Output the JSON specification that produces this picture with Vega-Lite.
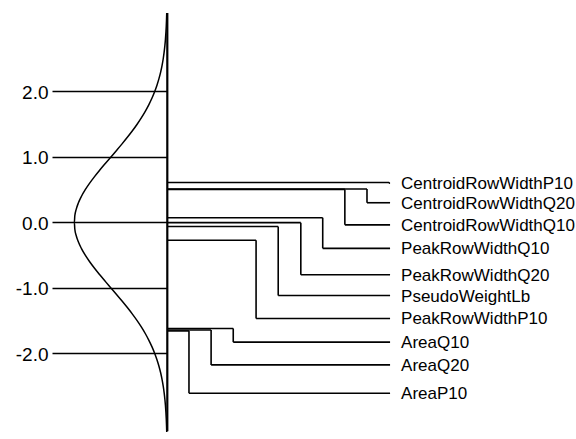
{
  "$schema": "https://vega.github.io/schema/vega-lite/v6.json",
  "width": 576,
  "height": 439,
  "autosize": {"type": "none"},
  "padding": 0,
  "background": "white",
  "config": {"view": {"stroke": null}},
  "layer": [
    {
      "data": {"values": [{"top": 3.2, "bottom": -3.19, "axisX": 0}]},
      "mark": {"type": "rule", "color": "#000", "strokeWidth": 2.2},
      "encoding": {
        "x": {"field": "axisX", "type": "quantitative", "axis": null, "scale": {"domain": [-0.718, 1.754], "nice": false}},
        "y": {
          "field": "top", "type": "quantitative",
          "scale": {"domain": [-3.231, 3.321], "nice": false, "zero": false},
          "axis": {
            "orient": "left", "offset": -167, "domain": false, "grid": false, "title": null,
            "values": [-2, -1, 0, 1, 2], "format": ".1f",
            "labelExpr": "replace(datum.label, '\u2212', '-')",
            "tickSize": 115, "tickWidth": 1.5, "tickColor": "#000",
            "labelFont": "Liberation Sans", "labelFontSize": 19, "labelColor": "#000",
            "labelPadding": 4, "labelBaseline": "middle", "labelOffset": 1
          }
        },
        "y2": {"field": "bottom"}
      }
    },
    {
      "data": {"values": [
        {"z": -3.2, "negDensity": -0.0024}, {"z": -3.1, "negDensity": -0.0033}, {"z": -3.0, "negDensity": -0.0044},
        {"z": -2.9, "negDensity": -0.006}, {"z": -2.8, "negDensity": -0.0079}, {"z": -2.7, "negDensity": -0.0104},
        {"z": -2.6, "negDensity": -0.0136}, {"z": -2.5, "negDensity": -0.0175}, {"z": -2.4, "negDensity": -0.0224},
        {"z": -2.3, "negDensity": -0.0283}, {"z": -2.2, "negDensity": -0.0355}, {"z": -2.1, "negDensity": -0.044},
        {"z": -2.0, "negDensity": -0.054}, {"z": -1.9, "negDensity": -0.0656}, {"z": -1.8, "negDensity": -0.079},
        {"z": -1.7, "negDensity": -0.094}, {"z": -1.6, "negDensity": -0.1109}, {"z": -1.5, "negDensity": -0.1295},
        {"z": -1.4, "negDensity": -0.1497}, {"z": -1.3, "negDensity": -0.1714}, {"z": -1.2, "negDensity": -0.1942},
        {"z": -1.1, "negDensity": -0.2179}, {"z": -1.0, "negDensity": -0.242}, {"z": -0.9, "negDensity": -0.2661},
        {"z": -0.8, "negDensity": -0.2897}, {"z": -0.7, "negDensity": -0.3123}, {"z": -0.6, "negDensity": -0.3332},
        {"z": -0.5, "negDensity": -0.3521}, {"z": -0.4, "negDensity": -0.3683}, {"z": -0.3, "negDensity": -0.3814},
        {"z": -0.2, "negDensity": -0.391}, {"z": -0.1, "negDensity": -0.397}, {"z": 0.0, "negDensity": -0.3989},
        {"z": 0.1, "negDensity": -0.397}, {"z": 0.2, "negDensity": -0.391}, {"z": 0.3, "negDensity": -0.3814},
        {"z": 0.4, "negDensity": -0.3683}, {"z": 0.5, "negDensity": -0.3521}, {"z": 0.6, "negDensity": -0.3332},
        {"z": 0.7, "negDensity": -0.3123}, {"z": 0.8, "negDensity": -0.2897}, {"z": 0.9, "negDensity": -0.2661},
        {"z": 1.0, "negDensity": -0.242}, {"z": 1.1, "negDensity": -0.2179}, {"z": 1.2, "negDensity": -0.1942},
        {"z": 1.3, "negDensity": -0.1714}, {"z": 1.4, "negDensity": -0.1497}, {"z": 1.5, "negDensity": -0.1295},
        {"z": 1.6, "negDensity": -0.1109}, {"z": 1.7, "negDensity": -0.094}, {"z": 1.8, "negDensity": -0.079},
        {"z": 1.9, "negDensity": -0.0656}, {"z": 2.0, "negDensity": -0.054}, {"z": 2.1, "negDensity": -0.044},
        {"z": 2.2, "negDensity": -0.0355}, {"z": 2.3, "negDensity": -0.0283}, {"z": 2.4, "negDensity": -0.0224},
        {"z": 2.5, "negDensity": -0.0175}, {"z": 2.6, "negDensity": -0.0136}, {"z": 2.7, "negDensity": -0.0104},
        {"z": 2.8, "negDensity": -0.0079}, {"z": 2.9, "negDensity": -0.006}, {"z": 3.0, "negDensity": -0.0044},
        {"z": 3.1, "negDensity": -0.0033}, {"z": 3.2, "negDensity": -0.0024}
      ]},
      "mark": {"type": "line", "color": "#000", "strokeWidth": 1.5, "interpolate": "monotone"},
      "encoding": {
        "x": {"field": "negDensity", "type": "quantitative"},
        "y": {"field": "z", "type": "quantitative"},
        "order": {"field": "z", "type": "quantitative"}
      }
    },
    {
      "data": {"values": [
        {"name": "CentroidRowWidthP10", "z": 0.61, "labelZ": 0.6, "drop": 0.952, "lineEnd": 0.956},
        {"name": "CentroidRowWidthQ20", "z": 0.51, "labelZ": 0.301, "drop": 0.857, "lineEnd": 0.956},
        {"name": "CentroidRowWidthQ10", "z": 0.505, "labelZ": -0.037, "drop": 0.762, "lineEnd": 0.956},
        {"name": "PeakRowWidthQ10", "z": 0.072, "labelZ": -0.396, "drop": 0.667, "lineEnd": 0.956},
        {"name": "PeakRowWidthQ20", "z": -0.003, "labelZ": -0.799, "drop": 0.573, "lineEnd": 0.956},
        {"name": "PseudoWeightLb", "z": -0.063, "labelZ": -1.116, "drop": 0.476, "lineEnd": 0.956},
        {"name": "PeakRowWidthP10", "z": -0.272, "labelZ": -1.466, "drop": 0.381, "lineEnd": 0.956},
        {"name": "AreaQ10", "z": -1.619, "labelZ": -1.828, "drop": 0.283, "lineEnd": 0.956},
        {"name": "AreaQ20", "z": -1.642, "labelZ": -2.176, "drop": 0.188, "lineEnd": 0.956},
        {"name": "AreaP10", "z": -1.657, "labelZ": -2.609, "drop": 0.093, "lineEnd": 0.956}
      ]},
      "layer": [
        {
          "mark": {"type": "bar", "orient": "horizontal", "color": "#000", "size": 1.6},
          "encoding": {
            "x": {"field": "drop", "type": "quantitative"},
            "y": {"field": "z", "type": "quantitative"}
          }
        },
        {
          "mark": {"type": "rule", "color": "#000", "strokeWidth": 1.6},
          "encoding": {
            "x": {"field": "drop", "type": "quantitative"},
            "y": {"field": "z", "type": "quantitative"},
            "y2": {"field": "labelZ"}
          }
        },
        {
          "mark": {"type": "rule", "color": "#000", "strokeWidth": 1.6},
          "encoding": {
            "x": {"field": "drop", "type": "quantitative"},
            "x2": {"field": "lineEnd"},
            "y": {"field": "labelZ", "type": "quantitative"}
          }
        },
        {
          "mark": {"type": "text", "align": "left", "baseline": "middle", "font": "Liberation Sans", "fontSize": 17, "color": "#000", "dx": 11, "dy": 1},
          "encoding": {
            "x": {"field": "lineEnd", "type": "quantitative"},
            "y": {"field": "labelZ", "type": "quantitative"},
            "text": {"field": "name", "type": "nominal"}
          }
        }
      ]
    }
  ]
}
